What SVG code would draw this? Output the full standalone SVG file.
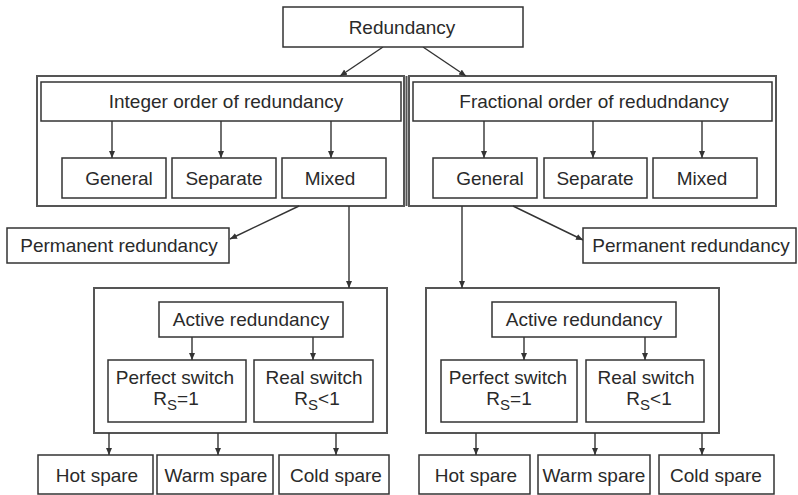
<svg xmlns="http://www.w3.org/2000/svg" width="798" height="495" viewBox="0 0 798 495">
<style>
.b{fill:#fff;stroke:#333;stroke-width:1.5}
.c{fill:none;stroke:#555;stroke-width:2}
.t{font-family:"Liberation Sans",Arial,sans-serif;font-size:19px;fill:#2a2a2a;text-anchor:middle}
.s{font-size:15px}
.l{fill:none;stroke:#333;stroke-width:1.4;marker-end:url(#a)}
</style>
<defs>
<marker id="a" markerUnits="userSpaceOnUse" markerWidth="7" markerHeight="7" refX="7" refY="3" orient="auto">
<path d="M0,0 L7,3 L0,6 z" fill="#333"/>
</marker>
</defs>
<rect width="798" height="495" fill="#fff"/>
<g id="containers">
<rect id="intContainer" class="c" x="37" y="76" width="367" height="130"/>
<line class="c" x1="406.5" y1="76" x2="406.5" y2="206"/>
<rect id="fracContainer" class="c" x="409" y="76" width="367" height="130"/>
<rect id="lowLeftContainer" class="c" x="94" y="288" width="293" height="145"/>
<rect id="lowRightContainer" class="c" x="426" y="288" width="293" height="145"/>
</g>
<g id="connectors">
<line class="l" x1="383" y1="47" x2="340" y2="76"/>
<line class="l" x1="423" y1="47" x2="466" y2="76"/>
<line class="l" x1="112" y1="121" x2="112" y2="158"/>
<line class="l" x1="221" y1="121" x2="221" y2="158"/>
<line class="l" x1="331" y1="121" x2="331" y2="158"/>
<line class="l" x1="484" y1="121" x2="484" y2="158"/>
<line class="l" x1="593" y1="121" x2="593" y2="158"/>
<line class="l" x1="702" y1="121" x2="702" y2="158"/>
<line class="l" x1="299" y1="206" x2="230" y2="239"/>
<line class="l" x1="513" y1="206" x2="583" y2="240"/>
<line class="l" x1="349" y1="206" x2="349" y2="288"/>
<line class="l" x1="462" y1="206" x2="462" y2="288"/>
<line class="l" x1="192" y1="337" x2="192" y2="360"/>
<line class="l" x1="313" y1="337" x2="313" y2="360"/>
<line class="l" x1="524" y1="337" x2="524" y2="360"/>
<line class="l" x1="645" y1="337" x2="645" y2="360"/>
<line class="l" x1="109" y1="433" x2="109" y2="455"/>
<line class="l" x1="218" y1="433" x2="218" y2="455"/>
<line class="l" x1="336" y1="433" x2="336" y2="455"/>
<line class="l" x1="476" y1="433" x2="476" y2="455"/>
<line class="l" x1="595" y1="433" x2="595" y2="455"/>
<line class="l" x1="702" y1="433" x2="702" y2="455"/>
</g>
<g id="redundancy"><rect class="b" x="283" y="7" width="240" height="40"/><text class="t" x="402" y="34">Redundancy</text></g>
<g id="integer"><rect class="b" x="41" y="82" width="360" height="39"/><text class="t" x="226" y="108">Integer order of redundancy</text></g>
<g id="fractional"><rect class="b" x="413" y="82" width="359" height="39"/><text class="t" x="594" y="108">Fractional order of redudndancy</text></g>
<g id="intGeneral"><rect class="b" x="62" y="158" width="104" height="40"/><text class="t" x="119" y="185">General</text></g>
<g id="intSeparate"><rect class="b" x="172" y="158" width="104" height="40"/><text class="t" x="224" y="185">Separate</text></g>
<g id="intMixed"><rect class="b" x="282" y="158" width="104" height="40"/><text class="t" x="330" y="185">Mixed</text></g>
<g id="fracGeneral"><rect class="b" x="433" y="158" width="104" height="40"/><text class="t" x="490" y="185">General</text></g>
<g id="fracSeparate"><rect class="b" x="544" y="158" width="103" height="40"/><text class="t" x="595" y="185">Separate</text></g>
<g id="fracMixed"><rect class="b" x="653" y="158" width="104" height="40"/><text class="t" x="702" y="185">Mixed</text></g>
<g id="permLeft"><rect class="b" x="7" y="228" width="222" height="35"/><text class="t" x="119" y="252">Permanent redundancy</text></g>
<g id="permRight"><rect class="b" x="583" y="228" width="213" height="35"/><text class="t" x="691" y="252">Permanent redundancy</text></g>
<g id="activeLeft"><rect class="b" x="159" y="302" width="184" height="35"/><text class="t" x="251" y="326">Active redundancy</text></g>
<g id="activeRight"><rect class="b" x="492" y="302" width="184" height="35"/><text class="t" x="584" y="326">Active redundancy</text></g>
<g id="perfectLeft"><rect class="b" x="108" y="360" width="138" height="62"/><text class="t" x="175" y="384">Perfect switch</text><text class="t" x="176" y="405">R<tspan class="s" dy="5">S</tspan><tspan dy="-5">=1</tspan></text></g>
<g id="realLeft"><rect class="b" x="254" y="360" width="119" height="62"/><text class="t" x="314" y="384">Real switch</text><text class="t" x="317" y="405">R<tspan class="s" dy="5">S</tspan><tspan dy="-5">&lt;1</tspan></text></g>
<g id="perfectRight"><rect class="b" x="441" y="360" width="136" height="62"/><text class="t" x="508" y="384">Perfect switch</text><text class="t" x="509" y="405">R<tspan class="s" dy="5">S</tspan><tspan dy="-5">=1</tspan></text></g>
<g id="realRight"><rect class="b" x="586" y="360" width="118" height="62"/><text class="t" x="646" y="384">Real switch</text><text class="t" x="649" y="405">R<tspan class="s" dy="5">S</tspan><tspan dy="-5">&lt;1</tspan></text></g>
<g id="hotLeft"><rect class="b" x="38" y="455" width="115" height="39"/><text class="t" x="97" y="482">Hot spare</text></g>
<g id="warmLeft"><rect class="b" x="157" y="455" width="116" height="39"/><text class="t" x="216" y="482">Warm spare</text></g>
<g id="coldLeft"><rect class="b" x="279" y="455" width="110" height="39"/><text class="t" x="336" y="482">Cold spare</text></g>
<g id="hotRight"><rect class="b" x="419" y="455" width="111" height="39"/><text class="t" x="476" y="482">Hot spare</text></g>
<g id="warmRight"><rect class="b" x="538" y="455" width="112" height="39"/><text class="t" x="594" y="482">Warm spare</text></g>
<g id="coldRight"><rect class="b" x="659" y="455" width="115" height="39"/><text class="t" x="716" y="482">Cold spare</text></g>
</svg>
